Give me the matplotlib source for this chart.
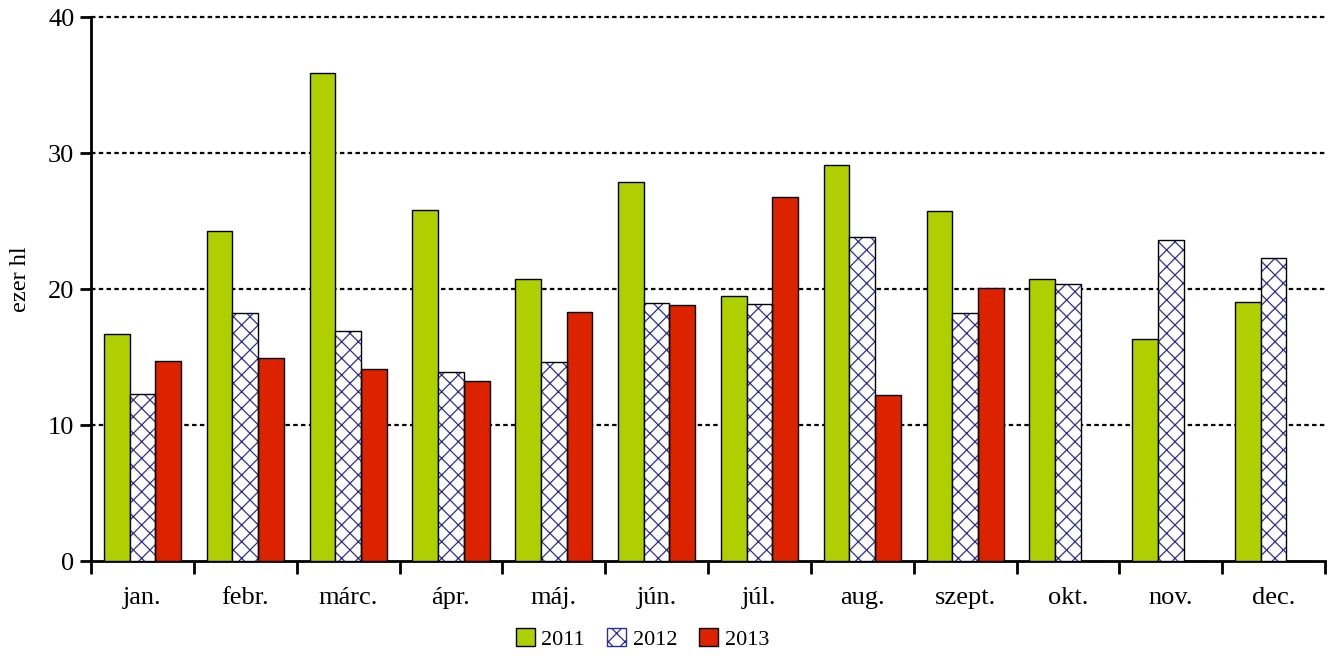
import numpy as np
import matplotlib.pyplot as plt
from matplotlib.patches import Patch

plt.rcParams['font.family'] = ['Liberation Serif', 'DejaVu Serif']
plt.rcParams['hatch.linewidth'] = 0.9

# adatok (ezer hl)
honapok = ["jan.", "febr.", "márc.", "ápr.", "máj.", "jún.", "júl.",
           "aug.", "szept.", "okt.", "nov.", "dec."]
ev_2011 = [16.7, 24.3, 35.9, 25.8, 20.7, 27.9, 19.5, 29.1, 25.75, 20.7, 16.3, 19.05]
ev_2012 = [12.3, 18.2, 16.9, 13.9, 14.65, 18.95, 18.9, 23.8, 18.2, 20.4, 23.6, 22.3]
ev_2013 = [14.7, 14.9, 14.1, 13.2, 18.3, 18.85, 26.8, 12.2, 20.05, 0, 0, 0]

zold = '#AFCF00'
piros = '#DD2200'
kek = '#2E2E9A'

fig = plt.figure(figsize=(13.33, 6.57), dpi=100)
ax = fig.add_axes([0.0683, 0.1461, 0.9257, 0.828])

x = np.arange(len(honapok))
w = 0.25

ax.bar(x - w, ev_2011, w, color=zold, edgecolor='black', linewidth=1, zorder=3)
# sraffozott oszlop: kék minta, utána fekete keret
ax.bar(x, ev_2012, w, color='white', edgecolor=kek, hatch='xx', linewidth=0, zorder=3)
ax.bar(x, ev_2012, w, color='none', edgecolor='black', linewidth=1, zorder=4)
ax.bar(x + w, ev_2013, w, color=piros, edgecolor='black', linewidth=1, zorder=3)

ax.set_xlim(-0.5, len(honapok) - 0.5)
ax.set_ylim(0, 40)
ax.set_yticks([0, 10, 20, 30, 40])

# rácsvonalak
for v in [10, 20, 30, 40]:
    ax.axhline(v, color='black', linestyle=(0, (2, 1.5)), linewidth=1.6,
               zorder=1, clip_on=False)

ax.set_xticks(np.arange(-0.5, len(honapok)), minor=False)
ax.set_xticklabels([])
ax.set_xticks(x, minor=True)
ax.set_xticklabels(honapok, minor=True)
ax.tick_params(axis='x', which='major', length=9, width=2, direction='out')
ax.tick_params(axis='x', which='minor', length=0, labelsize=19, pad=19)
ax.tick_params(axis='y', length=8, width=2, direction='out', labelsize=19, pad=4)

for s in ['top', 'right']:
    ax.spines[s].set_visible(False)
for s in ['left', 'bottom']:
    ax.spines[s].set_linewidth(2)

fig.text(20 / 1333, 1 - 279 / 657, 'ezer hl', fontsize=17.5, rotation=90,
         ha='center', va='center')

kezelok = [Patch(facecolor=zold, edgecolor='black', linewidth=1),
           Patch(facecolor='white', edgecolor=kek, hatch='xx', linewidth=1),
           Patch(facecolor=piros, edgecolor='black', linewidth=1)]
fig.legend(kezelok, ['2011', '2012', '2013'], loc='center',
           bbox_to_anchor=(0.482, 0.027), ncol=3, frameon=False,
           fontsize=16, handlelength=0.85, handleheight=0.85,
           handletextpad=0.3, columnspacing=1.0)

fig.savefig('out.png', dpi=100)
